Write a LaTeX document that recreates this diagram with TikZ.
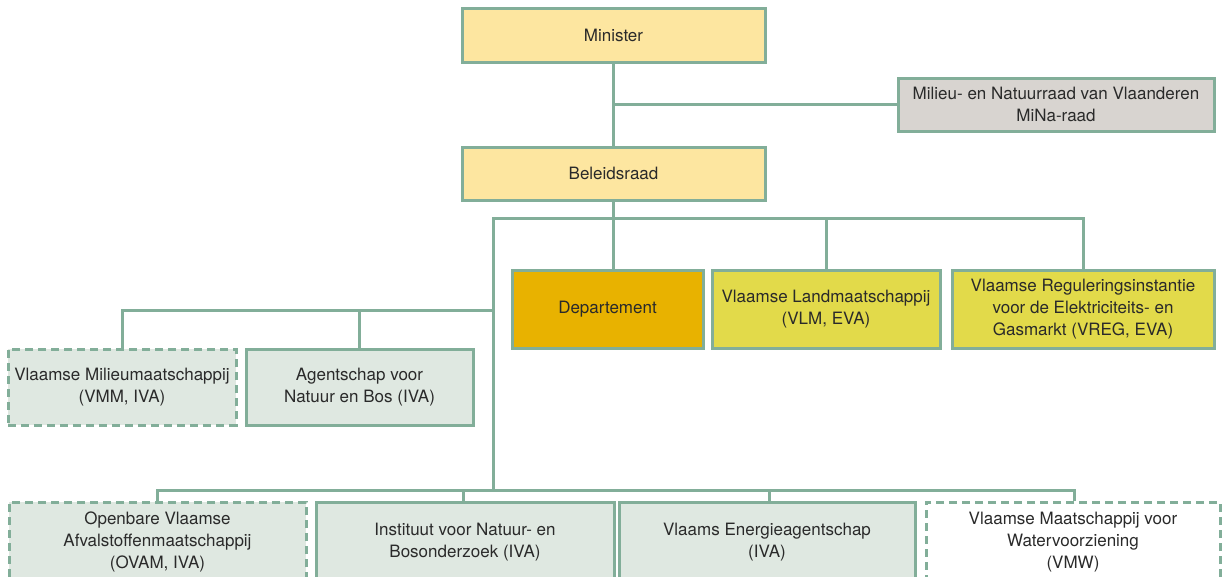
\documentclass[tikz,border=0pt]{standalone}
\usepackage{fontspec}
\setmainfont{TeX Gyre Heros}
\usepackage{tikz}
\usetikzlibrary{positioning}

\definecolor{linegreen}{HTML}{82AE99}
\definecolor{paleyellow}{HTML}{FDE6A0}
\definecolor{minagrey}{HTML}{D8D4D0}
\definecolor{deptgold}{HTML}{E8B200}
\definecolor{evayellow}{HTML}{E2DA4A}
\definecolor{ivagreen}{HTML}{DFE8E1}
\definecolor{textgrey}{HTML}{2A2A2A}

\tikzset{
	orgbox/.style={rectangle,draw=linegreen,line width=3pt,align=center,
		text=textgrey,font=\fontsize{17}{22}\selectfont,inner sep=0pt},
	topbox/.style={orgbox,fill=paleyellow},
	raadbox/.style={orgbox,fill=minagrey},
	deptbox/.style={orgbox,fill=deptgold},
	evabox/.style={orgbox,fill=evayellow},
	ivabox/.style={orgbox,fill=ivagreen},
	extbox/.style={orgbox,dash pattern=on 8pt off 5pt},
	orgline/.style={draw=linegreen,line width=3pt}
}

\begin{document}
\begin{tikzpicture}[x=1pt,y=-1pt]
		\useasboundingbox (0,0) rectangle (1222,576);
		\clip (0,0) rectangle (1222,576);
%		\draw[help lines] (0,0) grid (1222,576);
		\path (613.5,35) node(minister) [topbox,minimum width=303,minimum height=54] {Minister};
		\path (613.5,173.5) node(beleid) [topbox,minimum width=303,minimum height=53] {Beleidsraad};
		\path (1056,104.5) node(mina) [raadbox,minimum width=316,minimum height=53] {Milieu- en Natuurraad van Vlaanderen\\MiNa-raad};

		\path (607.5,309) node(dept) [deptbox,minimum width=191,minimum height=78] {Departement};
		\path (826,309) node(vlm) [evabox,minimum width=228,minimum height=78] {Vlaamse Landmaatschappij\\(VLM, EVA)};
		\path (1083,309) node(vreg) [evabox,minimum width=262,minimum height=78] {Vlaamse Reguleringsinstantie\\voor de Elektriciteits- en\\Gasmarkt (VREG, EVA)};

		\path (122,387) node(vmm) [ivabox,extbox,minimum width=228,minimum height=76] {Vlaamse Milieumaatschappij\\(VMM, IVA)};
		\path (359.5,387) node(anb) [ivabox,minimum width=227,minimum height=76] {Agentschap voor\\Natuur en Bos (IVA)};

		\path (157.5,542) node(ovam) [ivabox,extbox,minimum width=297,minimum height=80] {Openbare Vlaamse\\Afvalstoffenmaatschappij\\(OVAM, IVA)};
		\path (465,542) node(inbo) [ivabox,minimum width=298,minimum height=80] {Instituut voor Natuur- en\\Bosonderzoek (IVA)};
		\path (767,542) node(vea) [ivabox,minimum width=296,minimum height=80] {Vlaams Energieagentschap\\(IVA)};
		\path (1073,542) node(vmw) [orgbox,extbox,fill=white,minimum width=294,minimum height=80] {Vlaamse Maatschappij voor\\Watervoorziening\\(VMW)};

		\path (493,218) coordinate (bus_top);
		\path (493,310) coordinate (bus_mid);
		\path (493,490) coordinate (bus_low);

		\draw[orgline] (minister.south) -- (beleid.north);
		\draw[orgline] (mina.west) -- (mina.west -| minister.south);
		\draw[orgline] (beleid.south) -- (beleid.south |- dept.north);
		\draw[orgline] (vreg.north) |- (bus_top) -- (bus_low);
		\draw[orgline] (vlm.north) -- (vlm.north |- bus_top);
		\draw[orgline] (vmm.north) |- (bus_mid);
		\draw[orgline] (anb.north) -- (anb.north |- bus_mid);
		\draw[orgline] (ovam.north) |- (bus_low) -| ([xshift=1pt]vmw.north);
		\draw[orgline] ([xshift=-2pt]inbo.north) -- ([xshift=-2pt]inbo.north |- bus_low);
		\draw[orgline] ([xshift=2pt]vea.north) -- ([xshift=2pt]vea.north |- bus_low);
	\end{tikzpicture}
\end{document}
